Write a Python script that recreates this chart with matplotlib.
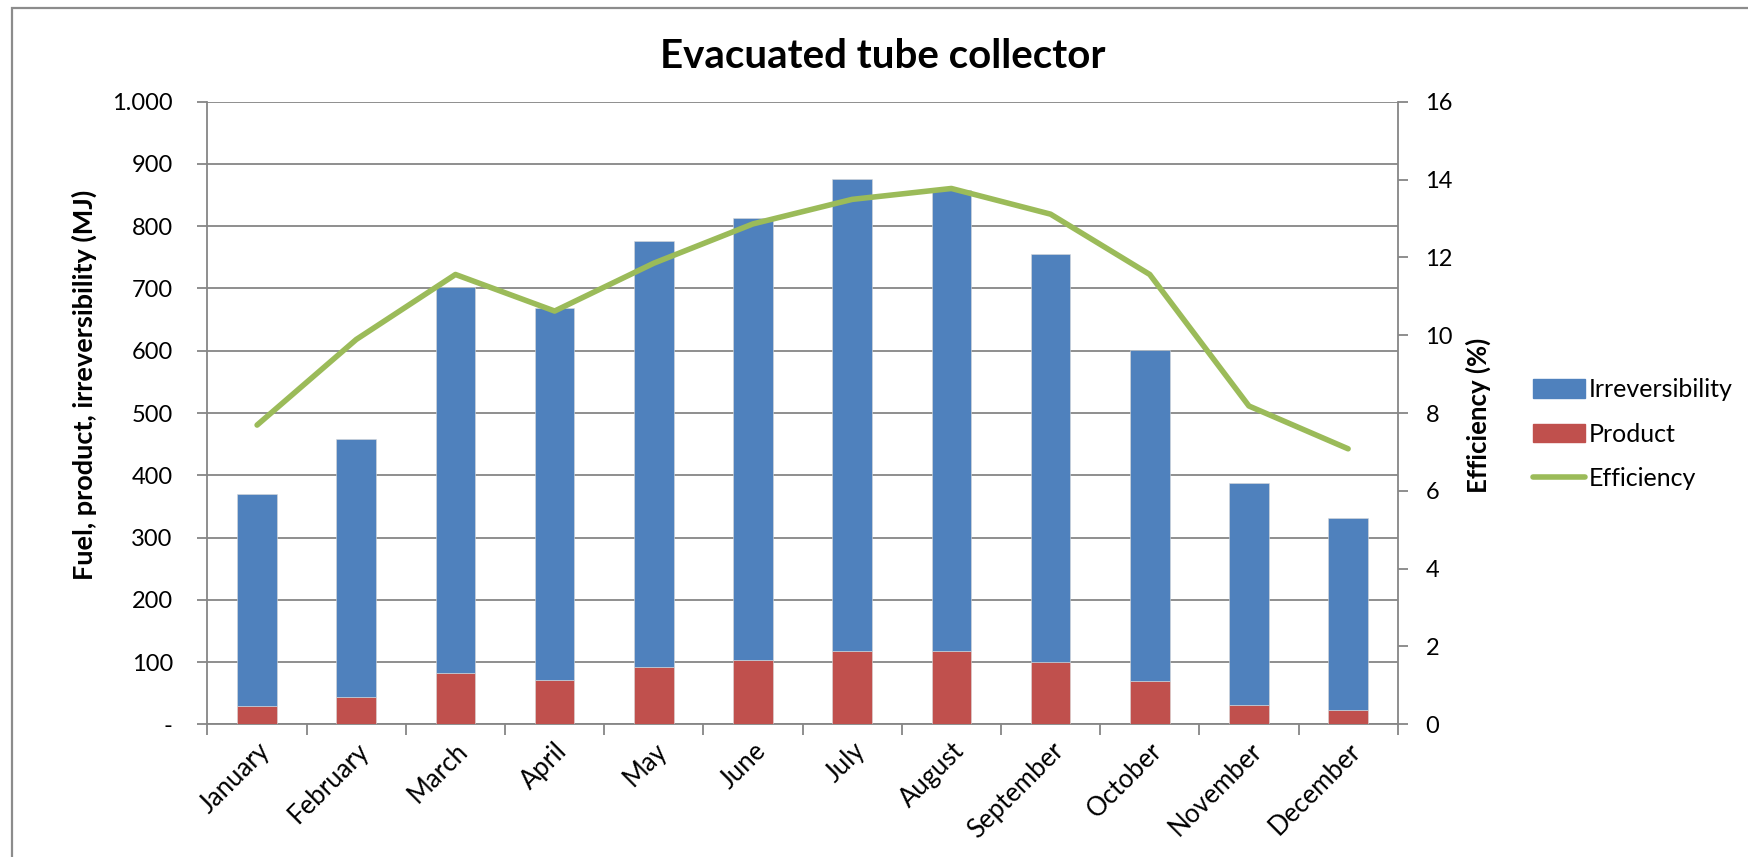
import matplotlib
matplotlib.use('Agg')
import matplotlib.pyplot as plt
from matplotlib.patches import Rectangle
from matplotlib.lines import Line2D
from matplotlib.ticker import FuncFormatter, MultipleLocator
import numpy as np

# ── Data ──────────────────────────────────────────────────────────────────────
months = ['January', 'February', 'March', 'April', 'May', 'June',
          'July', 'August', 'September', 'October', 'November', 'December']
product = [29, 44, 83, 71, 92, 103, 118, 118, 100, 70, 31, 23]            # MJ
fuel = [370, 458, 702, 669, 777, 813, 876, 858, 756, 601, 387, 331]       # MJ
efficiency = [7.69, 9.89, 11.56, 10.62, 11.85, 12.86, 13.49, 13.77,
              13.11, 11.56, 8.18, 7.08]                                   # %

irreversibility = [f - p for f, p in zip(fuel, product)]

BLUE, RED, GREEN = '#4F81BD', '#C0504D', '#9BBB59'
GRID = '#868686'
plt.rcParams['font.family'] = ['Lato', 'DejaVu Sans']

W, H = 1749, 857
fig = plt.figure(figsize=(W / 100, H / 100), dpi=100)

# chart border (top and left visible, rest runs off the canvas)
fig.patches.append(Rectangle((12 / W, -0.1), 1.2, 1 - 8 / H + 0.1,
                             transform=fig.transFigure, fill=False,
                             edgecolor='#8c8c8c', lw=1.6))

ax = fig.add_axes([207.5 / W, 1 - 724.3 / H, (1397.7 - 207.5) / W, (724.3 - 101.7) / H])
x = np.arange(len(months))
ax.bar(x, product, width=0.4, color=RED, edgecolor='#d9d9d9', lw=0.4, zorder=3)
ax.bar(x, irreversibility, bottom=product, width=0.4, color=BLUE,
       edgecolor='#d9d9d9', lw=0.4, zorder=3)

ax.set_xlim(-0.5, len(months) - 0.5)
ax.set_ylim(0, 1000)
ax.yaxis.set_major_locator(MultipleLocator(100))
ax.yaxis.set_major_formatter(FuncFormatter(
    lambda v, _: '-' if v == 0 else f'{int(v):,}'.replace(',', '.')))
ax.grid(axis='y', color=GRID, lw=1.3, zorder=0)
ax.set_xticks(x)
ax.set_xticklabels(months, rotation=45, ha='right', rotation_mode='anchor', fontsize=18.5)
ax.set_xticks(np.arange(-0.5, len(months)), minor=True)
ax.tick_params(axis='x', which='major', length=0, pad=10)
ax.tick_params(axis='x', which='minor', length=8, width=1.3, color=GRID)
ax.tick_params(axis='y', length=7, width=1.3, color=GRID, labelsize=17, pad=18)
for side in ['top', 'right']:
    ax.spines[side].set_visible(False)
for side in ['left', 'bottom']:
    ax.spines[side].set_color(GRID)
    ax.spines[side].set_linewidth(1.3)

# efficiency on the secondary axis
ax2 = ax.twinx()
ax2.plot(x, efficiency, color=GREEN, lw=4, solid_capstyle='round', zorder=4)
ax2.set_ylim(0, 16)
ax2.yaxis.set_major_locator(MultipleLocator(2))
ax2.tick_params(axis='y', length=7, width=1.3, color=GRID, labelsize=17, pad=13)
for side in ['top', 'left', 'bottom']:
    ax2.spines[side].set_visible(False)
ax2.spines['right'].set_color(GRID)
ax2.spines['right'].set_linewidth(1.3)

fig.text(883 / W, 1 - 57 / H, 'Evacuated tube collector', ha='center', va='center',
         fontsize=29, fontweight='bold')
fig.text(84 / W, 1 - 385 / H, 'Fuel, product, irreversibility (MJ)', rotation=90,
         ha='center', va='center', fontsize=19.5, fontweight='bold')
fig.text(1478 / W, 1 - 415 / H, 'Efficiency (%)', rotation=90,
         ha='center', va='center', fontsize=18.5, fontweight='bold')

handles = [Rectangle((0, 0), 1, 1, color=BLUE),
           Rectangle((0, 0), 1, 1, color=RED),
           Line2D([], [], color=GREEN, lw=4, solid_capstyle='round')]
fig.legend(handles, ['Irreversibility', 'Product', 'Efficiency'],
           loc='center left', bbox_to_anchor=(1533 / W, 1 - 434 / H),
           frameon=False, fontsize=18, handlelength=2.1, handleheight=0.75,
           handletextpad=0.15, labelspacing=0.85, borderaxespad=0, borderpad=0)

fig.savefig('out.png', dpi=100)
